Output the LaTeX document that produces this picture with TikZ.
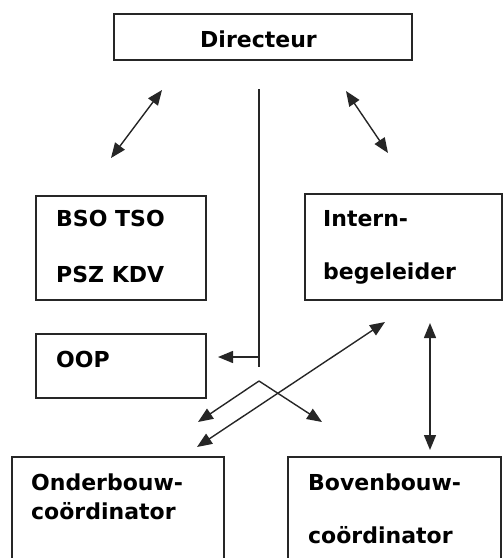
\documentclass[tikz,border=0pt]{standalone}
\usepackage{fontspec}
\setmainfont{DejaVu Sans}
\usetikzlibrary{arrows.meta}

\begin{document}
\begin{tikzpicture}[x=1pt,y=-1pt,
    box/.style={draw=black!85, line width=1.4pt, inner sep=0pt},
    lbl/.style={anchor=base west, inner sep=0pt, font=\fontsize{22}{26}\selectfont\bfseries},
    con/.style={line width=1.4pt, draw=black!85},
    tip/.style={-{Triangle[length=15pt,width=12pt]}},
    tips/.style={{Triangle[length=15pt,width=12pt]}-{Triangle[length=15pt,width=12pt]}}]
  \useasboundingbox (0,0) rectangle (504,558);
  \clip (0,0) rectangle (504,558);

  % boxes
  \node[box, minimum width=298pt, minimum height=46pt] (dir) at (263,37) {};
  \node[box, minimum width=170pt, minimum height=104pt] (bso) at (121,248) {};
  \node[box, minimum width=197pt, minimum height=106pt] (ib) at (403.5,247) {};
  \node[box, minimum width=170pt, minimum height=64pt] (oop) at (121,366) {};
  \node[box, minimum width=212pt, minimum height=130pt] (ond) at (118,522) {};
  \node[box, minimum width=213pt, minimum height=130pt] (bov) at (394.5,522) {};

  % texts
  \node[lbl, anchor=base] (dirtxt) at (258.5,47) {Directeur};
  \node[lbl] (bsotxt) at (56,226) {BSO TSO};
  \node[lbl] (psztxt) at (56,282) {PSZ KDV};
  \node[lbl] (ibtxt) at (323,226) {Intern-};
  \node[lbl] (begtxt) at (323,279) {begeleider};
  \node[lbl] (ooptxt) at (56,367) {OOP};
  \node[lbl] (ondtxt) at (31,490) {Onderbouw-};
  \node[lbl] (ondtxtb) at (31,519) {coördinator};
  \node[lbl] (bovtxt) at (308,490) {Bovenbouw-};
  \node[lbl] (bovtxtb) at (308,543) {coördinator};

  % arrow ends
  \coordinate (dl1) at (162,90);
  \coordinate (dl2) at (111,158);
  \coordinate (dr1) at (346,91);
  \coordinate (dr2) at (388,153);
  \coordinate (vt) at (259,89);
  \coordinate (vb) at (259,367);
  \coordinate (vh) at (259,357);
  \coordinate (oo) at (218,357);
  \coordinate (apex) at (259,381);
  \coordinate (al) at (198,422);
  \coordinate (ar) at (322,422);
  \coordinate (x1) at (385,322);
  \coordinate (x2) at (197,447);
  \coordinate (v1) at (430,323);
  \coordinate (v2) at (430,450);

  % connectors
  \draw[con, tips] (dl1) -- (dl2);
  \draw[con, tips] (dr1) -- (dr2);
  \draw[con] (vt) -- (vb);
  \draw[con, tip] (vh) -- (oo);
  \draw[con, tip] (apex) -- (al);
  \draw[con, tip] (apex) -- (ar);
  \draw[con, tips] (x1) -- (x2);
  \draw[con, tips] (v1) -- (v2);
\end{tikzpicture}
\end{document}
